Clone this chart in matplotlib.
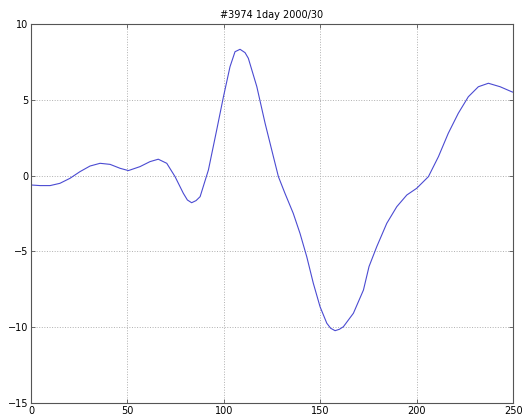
import matplotlib
matplotlib.use("Agg")
import matplotlib.pyplot as plt

# values
x_vals = [0, 4.7, 9.9, 15.0, 20.2, 25.4, 30.6, 35.8, 41.0, 46.2, 50.5, 56.5,
          61.7, 66.0, 70.4, 74.7, 79.0, 81.1, 83.3, 85.6, 87.7, 92.0, 96.3,
          99.8, 103.2, 105.8, 108.4, 111.0, 112.7, 117.1, 121.4, 125.7, 128.3,
          131.7, 136.0, 139.5, 143.0, 146.4, 149.9, 153.4, 155.4, 157.7, 159.9,
          162.0, 167.2, 172.4, 175.3, 179.3, 184.5, 189.7, 194.9, 200.0, 206.1,
          211.3, 216.4, 221.6, 226.8, 232.0, 237.2, 243.3, 249.3, 250]
y_vals = [-0.62, -0.66, -0.66, -0.51, -0.18, 0.26, 0.63, 0.81, 0.74, 0.48, 0.33, 0.59,
          0.92, 1.08, 0.81, -0.07, -1.17, -1.61, -1.79, -1.65, -1.39, 0.37, 3.01,
          5.2, 7.18, 8.17, 8.33, 8.11, 7.74, 5.87, 3.45, 1.25, -0.07,
          -1.17, -2.49, -3.81, -5.35, -7.1, -8.65, -9.74, -10.07, -10.23, -10.14,
          -9.97, -9.08, -7.55, -6.0, -4.69, -3.15, -2.05, -1.28, -0.84, -0.07,
          1.25, 2.79, 4.11, 5.2, 5.86, 6.09, 5.86, 5.53, 5.5]

TITLE = "#3974 1day 2000/30"

fig = plt.figure(figsize=(5.23, 4.2), dpi=100)
ax = fig.add_axes([0.0593, 0.0405, 0.9217, 0.9024])

ax.plot(x_vals, y_vals, color="#4b4bd2", linewidth=0.8)

ax.set_xlim(0, 250)
ax.set_ylim(-15, 10)
ax.set_xticks([0, 50, 100, 150, 200, 250])
ax.set_yticks([-15, -10, -5, 0, 5, 10])
ax.grid(True, linestyle=":", color="#b0b0b0", linewidth=0.7)
ax.tick_params(direction="in", top=True, right=True, labelsize=7,
               length=3, width=0.6, color="#555555", pad=2)
for s in ax.spines.values():
    s.set_color("#555555")
    s.set_linewidth(0.8)
ax.set_title(TITLE, fontsize=7, pad=4)

fig.savefig("out.png", dpi=100)
